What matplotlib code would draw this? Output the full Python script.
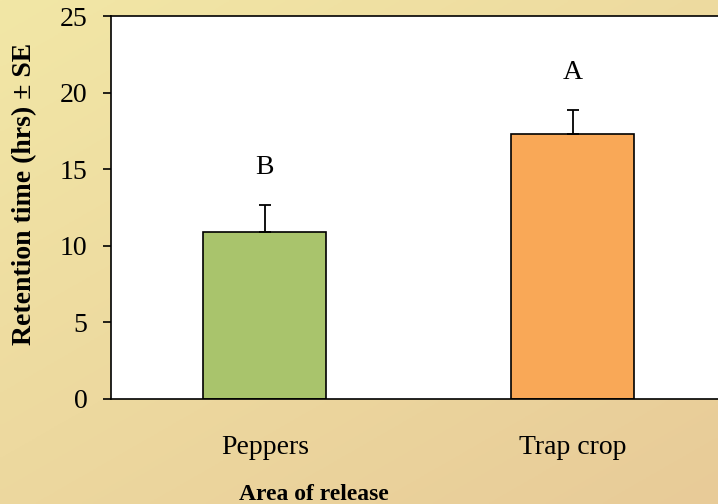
import matplotlib.pyplot as plt
import numpy as np

categories = ["Peppers", "Trap crop"]
means = [10.9, 17.3]
se = [1.75, 1.55]
letters = ["B", "A"]
letter_y = [15.1, 21.3]
colors = ["#a9c46c", "#f9a857"]

plt.rcParams["font.family"] = ["Liberation Serif", "DejaVu Serif"]

fig = plt.figure(figsize=(7.18, 5.04), dpi=100)

# gradient background, light at top-left, darker at bottom-right
bg = fig.add_axes([0, 0, 1, 1], zorder=-1)
yy, xx = np.mgrid[0:1:200j, 0:1:200j]
t = xx * 0.45 + yy * 0.55
c0 = np.array([242, 231, 166]) / 255
c1 = np.array([232, 203, 152]) / 255
img = c0[None, None, :] * (1 - t[..., None]) + c1[None, None, :] * t[..., None]
bg.imshow(img, extent=[0, 1, 0, 1], aspect="auto", origin="upper")
bg.axis("off")

ax = fig.add_axes([111 / 718, 1 - 399 / 504, 1 - 111 / 718 + 0.002, (399 - 16) / 504])
ax.set_facecolor("white")
x = np.arange(len(categories))
ax.bar(x, means, width=0.4, color=colors, edgecolor="black", linewidth=1.2, zorder=2)
ax.errorbar(x, means, yerr=[[0, 0], se], fmt="none", ecolor="black",
            elinewidth=1.3, capsize=4, capthick=1.3, zorder=3)
for xi, lab, ly in zip(x, letters, letter_y):
    ax.text(xi, ly, lab, ha="center", va="center", fontsize=20)

ax.set_xlim(-0.5, 1.477)
ax.set_ylim(0, 25)
ax.set_yticks([0, 5, 10, 15, 20, 25])
ax.set_xticks(x)
ax.set_xticklabels(categories)
ax.tick_params(axis="y", labelsize=20, length=6, width=1.2, direction="out", pad=11)
ax.tick_params(axis="x", labelsize=20, length=0, pad=26)
ax.spines["right"].set_visible(False)
for s in ["left", "bottom", "top"]:
    ax.spines[s].set_linewidth(1.2)
ax.set_ylabel("Retention time (hrs) ± SE", fontsize=20, fontweight="bold", labelpad=16)
ax.set_xlabel("Area of release", fontsize=17, fontweight="bold", labelpad=17)
ax.yaxis.label.set_y(0.535)
ax.xaxis.label.set_x(0.334)

fig.savefig("out.png", dpi=100)
